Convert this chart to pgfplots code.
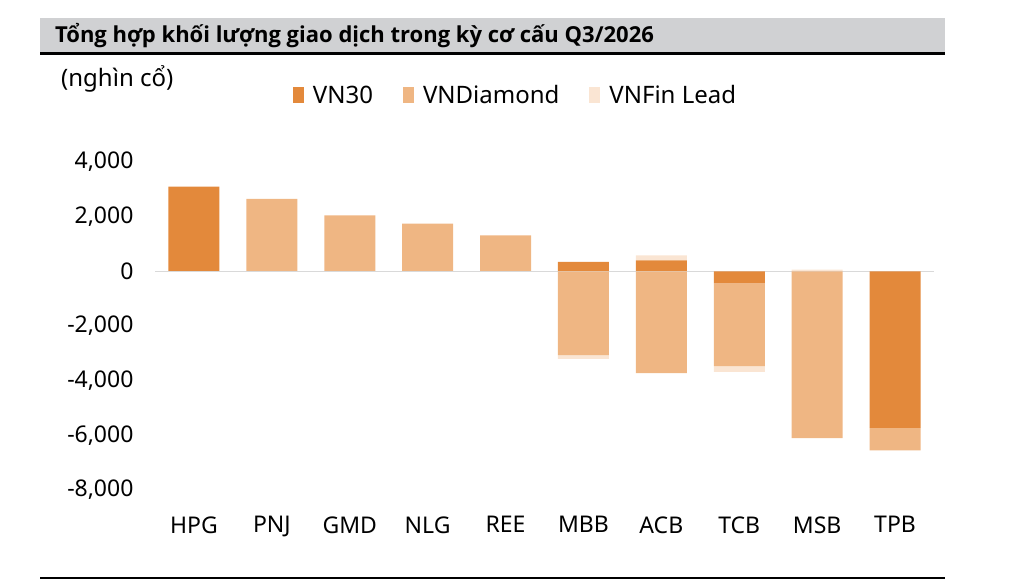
\documentclass[border=0pt]{standalone}
\usepackage{fontspec}
\setmainfont{Noto Sans}
\newfontfamily\titlefont{Open Sans}
\usepackage{pgfplots}
\pgfplotsset{compat=1.18}
\definecolor{cA}{RGB}{227,137,59}
\definecolor{cB}{RGB}{239,182,131}
\definecolor{cC}{RGB}{250,229,211}
\definecolor{band}{RGB}{208,209,211}
\definecolor{zline}{RGB}{217,217,217}
\pgfplotstableread{
x VN VD VF
0 3100 0 0
1 0 2650 0
2 0 2050 0
3 0 1750 0
4 0 1320 0
5 350 0 0
6 400 0 180
7 0 0 0
8 0 0 60
9 0 0 0
}\pos
\pgfplotstableread{
x VN VD VF
0 0 0 0
1 0 0 0
2 0 0 0
3 0 0 0
4 0 0 0
5 0 -3070 -130
6 0 -3720 0
7 -440 -3030 -210
8 0 -6100 0
9 -5730 -820 0
}\negt
\pgfplotsset{common/.style={
  at={(155pt,94pt)}, anchor=south west, width=779pt, height=328pt, scale only axis,
  xmin=-0.5, xmax=9.5, ymin=-8000, ymax=4000,
  ybar stacked, bar width=51pt,
  axis line style={draw=none}, tick style={draw=none},
  clip=false,
}}
\begin{document}
\begin{tikzpicture}[x=1pt,y=1pt]
\path[use as bounding box] (0,0) rectangle (1026,584);
\fill[band] (40,532) rectangle (945,566);
\draw[line width=2.5pt] (40,530.5) -- (945,530.5);
\node[anchor=west,inner sep=0pt,font=\titlefont\bfseries\fontsize{22}{25}\selectfont] at (55,548) {Tổng hợp khối lượng giao dịch trong kỳ cơ cấu Q3/2026};
\node[anchor=west,inner sep=0pt,font=\fontsize{24}{27}\selectfont] at (61,505) {(nghìn cổ)};
\draw[line width=1.5pt] (40,6) -- (945,6);
\begin{axis}[common,
  xtick={0,...,9}, xticklabels={HPG,PNJ,GMD,NLG,REE,MBB,ACB,TCB,MSB,TPB},
  xticklabel style={font=\fontsize{23}{26}\selectfont, yshift=-23pt},
  ytick={-8000,-6000,-4000,-2000,0,2000,4000},
  yticklabels={{-8,000},{-6,000},{-4,000},{-2,000},0,{2,000},{4,000}},
  yticklabel style={font=\fontsize{23}{26}\selectfont, xshift=-18pt},
  legend style={at={(axis description cs:0.173,1.204)}, anchor=west, draw=none, fill=none,
    font=\fontsize{24}{27}\selectfont, legend columns=3,
    /tikz/every even column/.append style={column sep=28pt},
    /tikz/every odd column/.append style={column sep=7pt}},
  legend image code/.code={\fill[#1] (0pt,-8pt) rectangle (11pt,8pt);},
]
\addplot[fill=cA, draw=none] table[x=x,y=VN]{\pos};
\addplot[fill=cB, draw=none] table[x=x,y=VD]{\pos};
\addplot[fill=cC, draw=none] table[x=x,y=VF]{\pos};
\legend{VN30,VNDiamond,VNFin Lead}
\end{axis}
\begin{axis}[common, xtick=\empty, ytick=\empty]
\addplot[fill=cA, draw=none] table[x=x,y=VN]{\negt};
\addplot[fill=cB, draw=none] table[x=x,y=VD]{\negt};
\addplot[fill=cC, draw=none] table[x=x,y=VF]{\negt};
\draw[zline, line width=1.5pt] (axis cs:-0.5,0) -- (axis cs:9.5,0);
\end{axis}
\end{tikzpicture}
\end{document}
